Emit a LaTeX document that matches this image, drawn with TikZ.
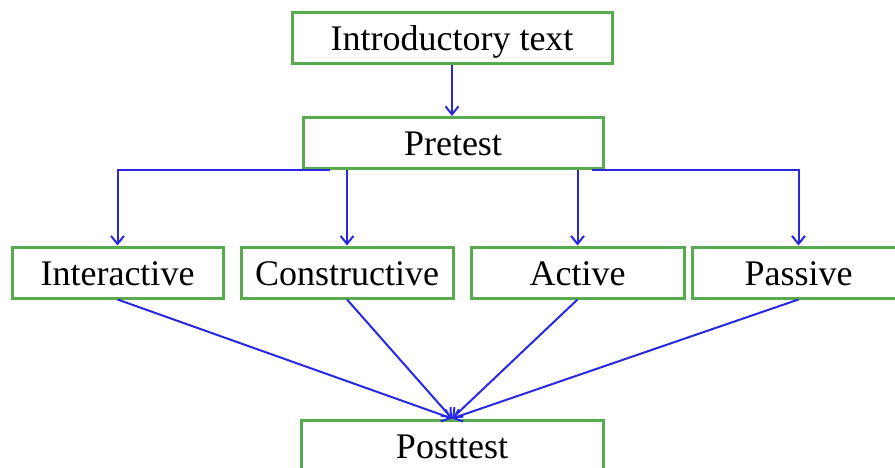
\documentclass[tikz,border=0pt]{standalone}
\usepackage{fontspec}
\setmainfont{Liberation Serif}
\usetikzlibrary{arrows.meta}
\definecolor{boxgreen}{RGB}{88,170,78}
\definecolor{linkblue}{RGB}{40,40,225}
\begin{document}
\begin{tikzpicture}[
     x=1pt,y=-1pt,
     box/.style={draw=boxgreen,line width=3pt,minimum height=51pt,inner sep=0pt,
       text height=29pt,text depth=4pt,font=\fontsize{36}{40}\selectfont},
     link/.style={draw=linkblue,line width=2pt,-{Straight Barb[length=8pt,width=13pt]}}
   ]
   \clip (0,0) rectangle (895,468);
   % Intro and pretest.
   \node[box,minimum width=320pt] (intro) at (452,38.5) {Introductory text};
   \node[box,minimum width=300pt] (pre) at (453,143) {Pretest};
   % Conditions.
   \node[box,minimum width=211pt] (int) at (117.5,272.5) {Interactive};
   \node[box,minimum width=212pt] (con) at (347,272.5) {Constructive};
   \node[box,minimum width=213pt] (act) at (577.5,272.5) {Active};
   \node[box,minimum width=213pt] (pas) at (798.5,272.5) {Passive};
   % Posttest.
   \node[box,minimum width=302pt] (post) at (452,445.5) {Posttest};
   % Links.
   \draw[link] (intro.south) -- (intro.south |- pre.north);
   \draw[link] ([xshift=-123pt]pre.south) -| (int.north);
   \draw[link] (pre.south -| con.north) -- (con.north);
   \draw[link] (pre.south -| act.north) -- (act.north);
   \draw[link] ([xshift=139pt]pre.south) -| (pas.north);
   \foreach \n in {int,con,act,pas}
     \draw[link] (\n.south) -- (post.north);
 \end{tikzpicture}
\end{document}
